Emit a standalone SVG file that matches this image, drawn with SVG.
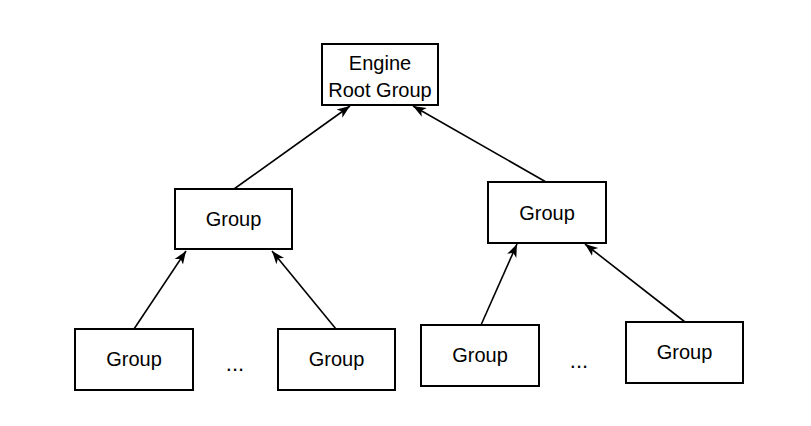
<svg xmlns="http://www.w3.org/2000/svg" width="811" height="426" viewBox="0 0 811 426">
<style>
.box{fill:#fff;stroke:#000;stroke-width:2}
.lbl{font-family:"Liberation Sans",Arial,sans-serif;font-size:20px;fill:#000;text-anchor:middle}
.dots{font-family:"Liberation Sans",Arial,sans-serif;font-size:22px;fill:#000;text-anchor:middle}
.edge{stroke:#000;stroke-width:1.6;fill:none;marker-end:url(#arr)}
</style>
<defs>
<marker id="arr" markerWidth="14" markerHeight="12" viewBox="0 0 14 12" refX="13" refY="6" orient="auto" markerUnits="userSpaceOnUse">
<path d="M0,1 L13,6 L0,11 L3.5,6 Z" fill="#000"/>
</marker>
</defs>
<rect width="811" height="426" fill="#fff"/>
<g id="edges">
<line class="edge" x1="234" y1="189" x2="350" y2="106"/>
<line class="edge" x1="546" y1="182" x2="413" y2="106"/>
<line class="edge" x1="134" y1="329" x2="186" y2="251"/>
<line class="edge" x1="336" y1="329" x2="272" y2="251"/>
<line class="edge" x1="481" y1="325" x2="517" y2="244"/>
<line class="edge" x1="685" y1="322" x2="585" y2="244"/>
</g>
<g id="root"><rect class="box" x="322" y="44" width="116" height="61"/><text class="lbl" x="380" y="70">Engine</text><text class="lbl" x="380" y="97">Root Group</text></g>
<g id="midLeft"><rect class="box" x="175" y="189" width="117" height="60"/><text class="lbl" x="233.5" y="226">Group</text></g>
<g id="midRight"><rect class="box" x="488" y="182" width="118" height="61"/><text class="lbl" x="547" y="220">Group</text></g>
<g id="b1"><rect class="box" x="75" y="329" width="118" height="61"/><text class="lbl" x="134" y="366">Group</text></g>
<g id="b2"><rect class="box" x="278" y="329" width="117" height="61"/><text class="lbl" x="336.5" y="366">Group</text></g>
<g id="b3"><rect class="box" x="421" y="325" width="118" height="61"/><text class="lbl" x="480" y="362">Group</text></g>
<g id="b4"><rect class="box" x="626" y="322" width="117" height="61"/><text class="lbl" x="684.5" y="359">Group</text></g>
<text class="dots" x="235" y="371">...</text>
<text class="dots" x="579" y="368">...</text>
</svg>
